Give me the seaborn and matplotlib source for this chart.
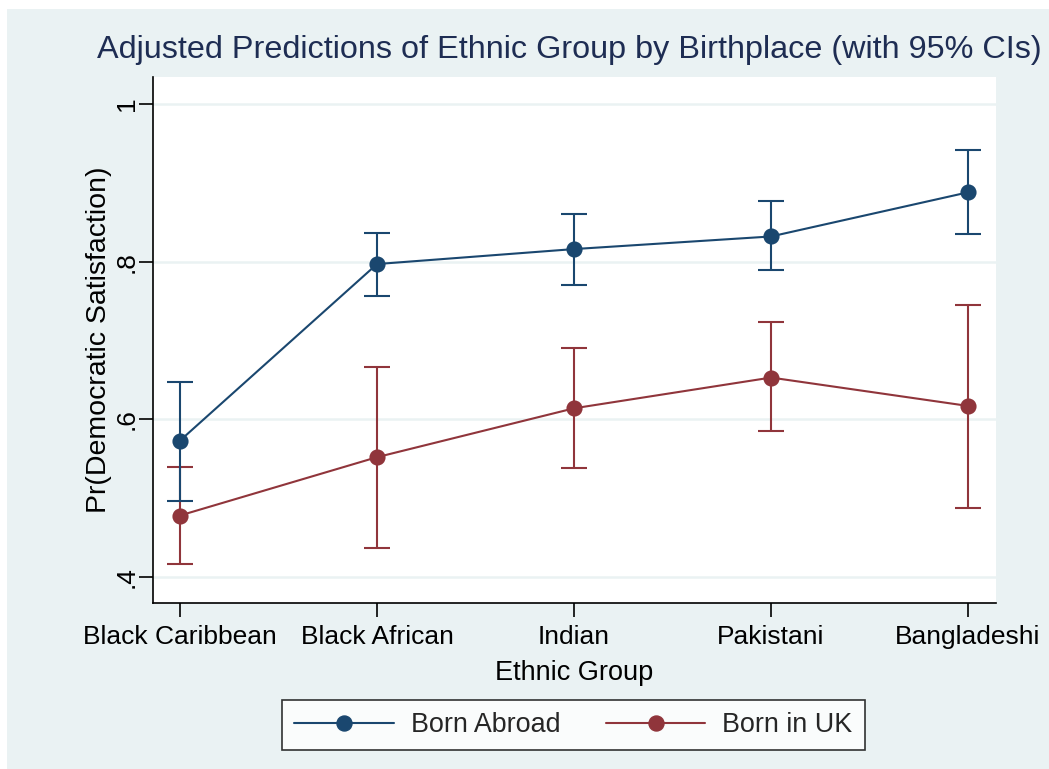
import matplotlib
matplotlib.use("Agg")
import matplotlib.pyplot as plt
from matplotlib.patches import Rectangle
from matplotlib.lines import Line2D
import numpy as np
import pandas as pd
import seaborn as sns

groups = ["Black Caribbean", "Black African", "Indian", "Pakistani", "Bangladeshi"]

abroad_pred = [0.573, 0.797, 0.816, 0.832, 0.888]
abroad_lo = [0.497, 0.757, 0.770, 0.789, 0.835]
abroad_hi = [0.648, 0.837, 0.860, 0.877, 0.942]

uk_pred = [0.478, 0.552, 0.614, 0.653, 0.617]
uk_lo = [0.417, 0.437, 0.538, 0.585, 0.488]
uk_hi = [0.539, 0.666, 0.691, 0.723, 0.745]

series_names = ["Born Abroad", "Born in UK"]
yticks = [0.4, 0.6, 0.8, 1.0]
ytick_labels = [".4", ".6", ".8", "1"]

NAVY = "#1a476f"
MAROON = "#90353b"
BG = "#eaf2f3"
TITLE_C = "#1e2d53"

sns.set_style("white")
plt.rcParams["font.family"] = ["Liberation Sans", "DejaVu Sans"]

df = pd.DataFrame({
    "group": groups * 2,
    "pred": abroad_pred + uk_pred,
    "birth": [series_names[0]] * 5 + [series_names[1]] * 5,
})

fig = plt.figure(figsize=(10.49, 7.69), dpi=100, facecolor="white")
fig.patches.append(Rectangle((7 / 1049, 0), 1, (769 - 9) / 769,
                             transform=fig.transFigure, facecolor=BG,
                             edgecolor="none", zorder=-10))
ax = fig.add_axes([153 / 1049, 1 - 603 / 769, (996 - 153) / 1049, (603 - 77) / 769])
ax.set_facecolor("white")

# confidence intervals as capped ranges
x = np.arange(len(groups))
for lo, hi, col in [(uk_lo, uk_hi, MAROON), (abroad_lo, abroad_hi, NAVY)]:
    ax.vlines(x, lo, hi, color=col, lw=1.5, zorder=2)
    ax.hlines(lo, x - 0.065, x + 0.065, color=col, lw=1.5, zorder=2)
    ax.hlines(hi, x - 0.065, x + 0.065, color=col, lw=1.5, zorder=2)

sns.pointplot(data=df, x="group", y="pred", hue="birth", order=groups,
              hue_order=series_names, palette=[NAVY, MAROON], markers="o",
              errorbar=None, ax=ax, legend=False,
              linewidth=1.5, markersize=10.5, zorder=3)

ax.set_xlim(-0.137, 4.142)
ax.set_ylim(0.367, 1.0343)
ax.set_yticks(yticks)
ax.set_yticklabels(ytick_labels, rotation=90, va="center", fontsize=19)
ax.set_xticks(x)
ax.set_xticklabels(groups, fontsize=19)
ax.yaxis.grid(True, color=BG, lw=1.8)
ax.xaxis.grid(False)
ax.set_axisbelow(True)
ax.tick_params(axis="both", direction="out", length=10, width=1.2,
               color="black", labelcolor="black", left=True, bottom=True)
ax.tick_params(axis="x", pad=6)
ax.tick_params(axis="y", pad=0)

for side in ["top", "right"]:
    ax.spines[side].set_visible(False)
for side in ["left", "bottom"]:
    ax.spines[side].set_color("black")
    ax.spines[side].set_linewidth(1.2)

ax.set_xlabel("Ethnic Group", fontsize=19.5, color="black", labelpad=8)
ax.set_ylabel("Pr(Democratic Satisfaction)", fontsize=20.5, color="black", labelpad=2)

fig.text(569 / 1049, 1 - 50 / 769,
         "Adjusted Predictions of Ethnic Group by Birthplace (with 95% CIs)",
         ha="center", va="center", fontsize=23.3, color=TITLE_C)

handles = [Line2D([], [], color=NAVY, marker="o", markersize=10.8, lw=1.5),
           Line2D([], [], color=MAROON, marker="o", markersize=10.8, lw=1.5)]
leg = fig.legend(handles, series_names, loc="center",
                 bbox_to_anchor=(573.5 / 1049, 1 - 725 / 769), ncol=2,
                 fontsize=19.4, frameon=True, fancybox=False, edgecolor="black",
                 handlelength=3.7, columnspacing=1.67, handletextpad=0.63,
                 borderpad=0.45, borderaxespad=0)
leg.get_frame().set_linewidth(1.2)

fig.savefig("out.png", dpi=100, facecolor=fig.get_facecolor())
